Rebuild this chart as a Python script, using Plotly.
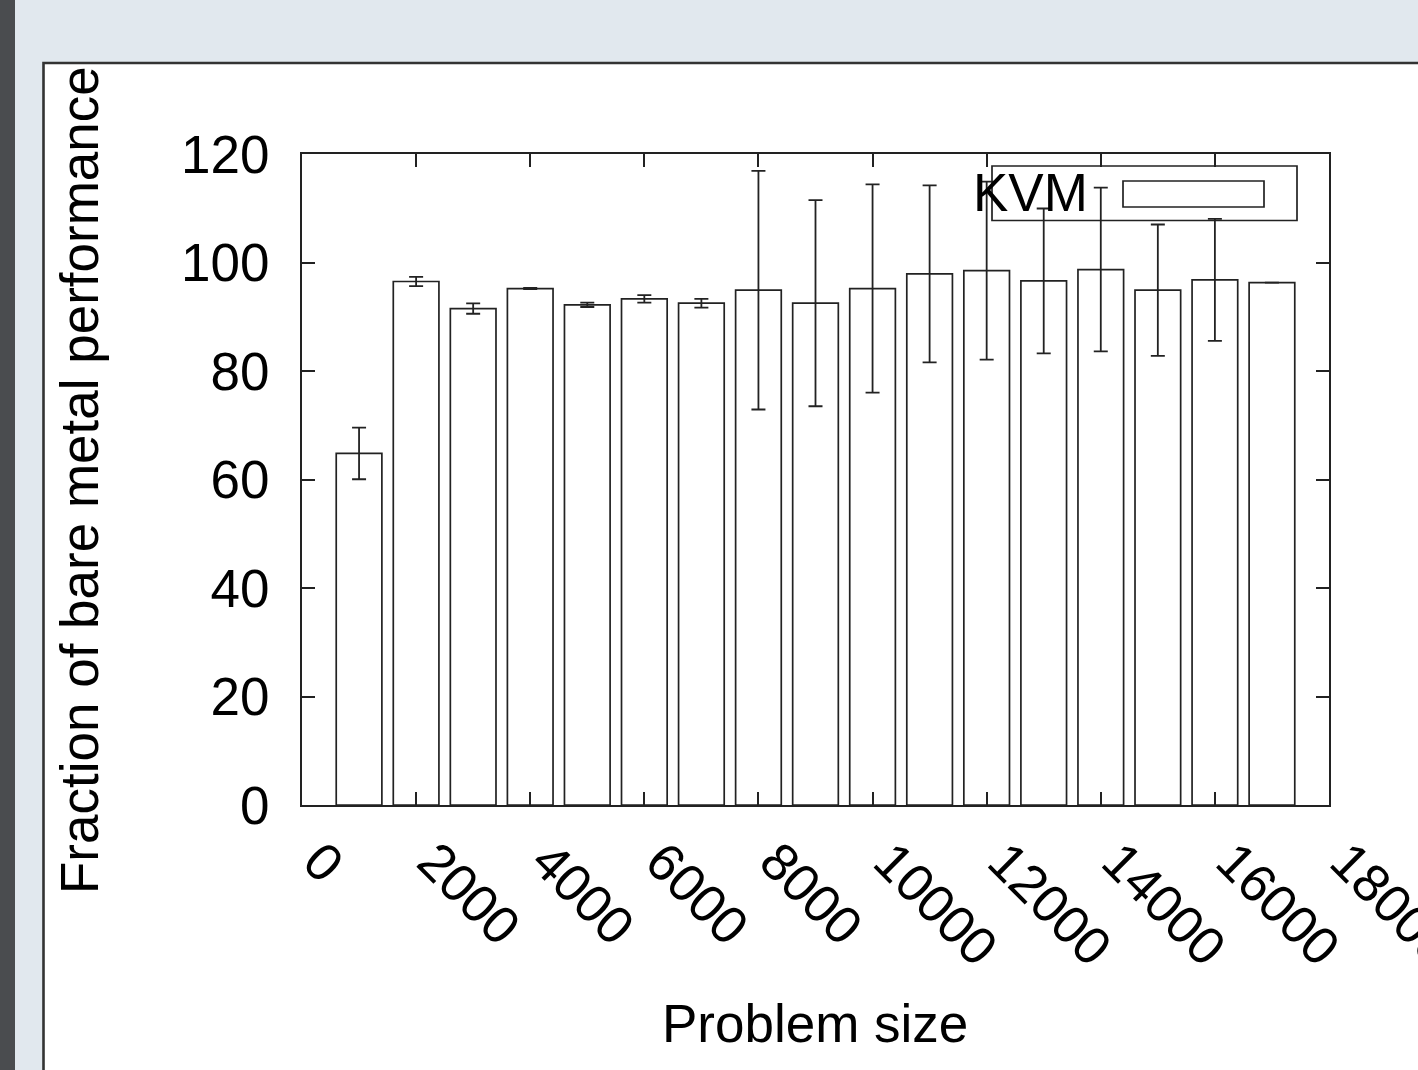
import plotly.graph_objects as go

# ---- data ----
problem_sizes = [1000, 2000, 3000, 4000, 5000, 6000, 7000, 8000, 9000,
                 10000, 11000, 12000, 13000, 14000, 15000, 16000, 17000]
kvm_fraction = [64.8, 96.5, 91.5, 95.2, 92.2, 93.3, 92.5, 94.9, 92.5,
                95.2, 97.9, 98.5, 96.6, 98.7, 94.9, 96.8, 96.3]
kvm_error = [4.75, 0.85, 0.95, 0.1, 0.4, 0.7, 0.8, 22.0, 19.0,
             19.2, 16.3, 16.4, 13.35, 15.1, 12.1, 11.25, 0.0]
x_ticks = [0, 2000, 4000, 6000, 8000, 10000, 12000, 14000, 16000, 18000]
y_ticks = [0, 20, 40, 60, 80, 100, 120]
series_name = "KVM"
x_title = "Problem size"
y_title = "Fraction of bare metal performance"

# ---- layout geometry (pixels) ----
W, H = 1418, 1070
L, R, T, B = 302, 1329, 154, 805
PW, PH = R - L, B - T

def px(xp):
    return (xp - L) / PW

def py(yp):
    return (B - yp) / PH

FONT = "Liberation Sans, Arial, Helvetica, sans-serif"
FS = 53
LINE = "#222222"

fig = go.Figure()
fig.add_trace(go.Bar(
    x=problem_sizes, y=kvm_fraction, width=800, name=series_name,
    marker=dict(color="white", line=dict(color=LINE, width=1.7)),
    error_y=dict(type="data", array=kvm_error, visible=True,
                 color=LINE, thickness=1.8, width=7),
    showlegend=False,
))

shapes = [
    # dark strip on far left
    dict(type="rect", xref="paper", yref="paper", layer="below",
         x0=px(-5), x1=px(15), y0=py(-5), y1=py(H + 5),
         fillcolor="#4a4c4f", line=dict(width=0)),
    # white panel with dark border
    dict(type="rect", xref="paper", yref="paper", layer="below",
         x0=px(43.5), x1=px(W + 20), y0=py(63), y1=py(H + 20),
         fillcolor="white", line=dict(color="#333333", width=2.6)),
    # legend outer box
    dict(type="rect", xref="paper", yref="paper",
         x0=px(992), x1=px(1297), y0=py(166), y1=py(220.5),
         fillcolor="rgba(0,0,0,0)", line=dict(color=LINE, width=1.7)),
    # legend sample
    dict(type="rect", xref="paper", yref="paper",
         x0=px(1123), x1=px(1264), y0=py(181), y1=py(207),
         fillcolor="rgba(0,0,0,0)", line=dict(color=LINE, width=1.7)),
]

annotations = [
    dict(text=series_name, xref="paper", yref="paper",
         x=px(1090), y=py(193), xanchor="right", yanchor="middle",
         showarrow=False, font=dict(family=FONT, size=FS, color="black")),
    dict(text=x_title, xref="paper", yref="paper",
         x=px(815), y=py(1023), xanchor="center", yanchor="middle",
         showarrow=False, font=dict(family=FONT, size=FS, color="black")),
    dict(text=y_title, xref="paper", yref="paper", textangle=-90,
         x=px(79), y=py(480), xanchor="center", yanchor="middle",
         showarrow=False, font=dict(family=FONT, size=FS, color="black")),
]

fig.update_layout(
    width=W, height=H,
    margin=dict(l=L, r=W - R, t=T, b=H - B, pad=0, autoexpand=False),
    paper_bgcolor="#e1e8ee",
    plot_bgcolor="white",
    shapes=shapes,
    annotations=annotations,
    font=dict(family=FONT, size=FS, color="black"),
)

fig.update_xaxes(
    range=[0, 18000], tickmode="array", tickvals=x_ticks,
    ticktext=[str(v) for v in x_ticks],
    tickangle=45, ticks="inside", ticklen=13, tickwidth=1.7,
    tickcolor=LINE, showline=True, linecolor=LINE, linewidth=1.7,
    mirror="ticks", showgrid=False, zeroline=False,
    ticklabeloverflow="allow", ticklabelstandoff=2, ticklabelshift=17,
    tickfont=dict(family=FONT, size=FS, color="black"),
    automargin=False,
)
fig.update_yaxes(
    range=[0, 120], tickmode="array", tickvals=y_ticks,
    ticks="inside", ticklen=13, tickwidth=1.7,
    tickcolor=LINE, showline=True, linecolor=LINE, linewidth=1.7,
    mirror="ticks", showgrid=False, zeroline=False,
    ticklabelstandoff=20,
    tickfont=dict(family=FONT, size=FS, color="black"),
    automargin=False,
)

fig.write_html("out.html")
